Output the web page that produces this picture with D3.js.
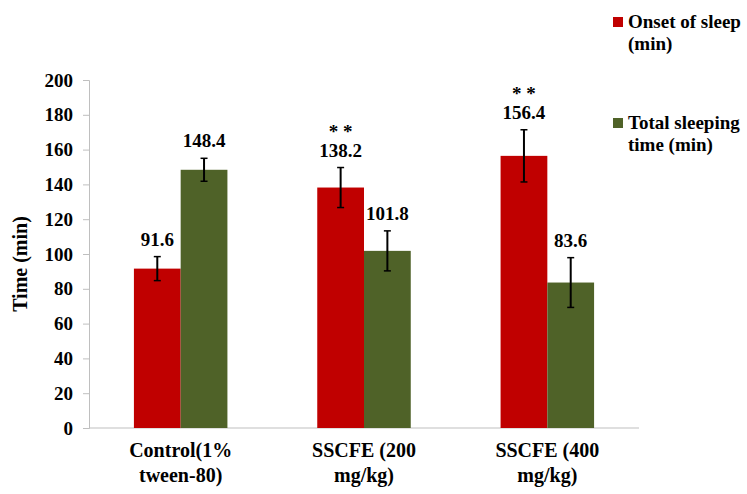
<!DOCTYPE html>
<html lang="en">
<head>
  <meta charset="UTF-8">
  <title>Onset of sleep and total sleeping time</title>
  <script src="https://cdnjs.cloudflare.com/ajax/libs/d3/7.8.5/d3.min.js"></script>
  <style>
    * { margin: 0; padding: 0; box-sizing: border-box; }
    body { background: #fff; width: 747px; height: 494px; overflow: hidden; }
  </style>
</head>
<body>
<div id="chart"></div>
<script>
  // Data
  const groups = [["Control(1%", "tween-80)"], ["SSCFE (200", "mg/kg)"], ["SSCFE (400", "mg/kg)"]];
  const seriesNames = [["Onset of sleep", "(min)"], ["Total sleeping", "time (min)"]];
  const onset = [91.6, 138.2, 156.4];
  const onsetErr = [6.9, 11.5, 15];
  const total = [148.4, 101.8, 83.6];
  const totalErr = [6.6, 11.5, 14.3];
  const stars = ["", "* *", "* *"];
  const yTicks = [0, 20, 40, 60, 80, 100, 120, 140, 160, 180, 200];
  const colors = ["#c00000", "#4f6228"];

  const width = 747, height = 494;
  const plot = {left: 89, right: 639, top: 80, bottom: 428};
  const font = "'Liberation Serif', 'Times New Roman', serif";
  const fs = "19px";

  const svg = d3.select("#chart").append("svg")
    .attr("width", width)
    .attr("height", height)
    .style("font-family", font)
    .style("font-weight", "bold");

  const x0 = d3.scaleBand()
    .domain(d3.range(groups.length))
    .range([plot.left, plot.right])
    .paddingInner(0.49)
    .paddingOuter(0.245);

  const x1 = d3.scaleBand()
    .domain([0, 1])
    .range([0, x0.bandwidth()]);

  const y = d3.scaleLinear()
    .domain([0, 200])
    .range([plot.bottom, plot.top]);

  // y axis
  const yAxis = svg.append("g")
    .attr("transform", `translate(${plot.left},0)`)
    .call(d3.axisLeft(y).tickValues(yTicks).tickSize(6).tickPadding(10));
  yAxis.attr("font-family", null).attr("font-size", null);
  yAxis.select(".domain").attr("stroke", "#bfbfbf");
  yAxis.selectAll(".tick line").attr("stroke", "#bfbfbf");
  yAxis.selectAll(".tick text")
    .style("font-size", fs)
    .attr("fill", "#000");

  // x axis line
  svg.append("line")
    .attr("x1", plot.left).attr("x2", plot.right)
    .attr("y1", y(0)).attr("y2", y(0))
    .attr("stroke", "#bfbfbf");

  // y label
  svg.append("text")
    .attr("transform", `translate(27,${(plot.top + plot.bottom) / 2 + 10}) rotate(-90)`)
    .attr("text-anchor", "middle")
    .style("font-size", "20px")
    .text("Time (min)");

  const rows = groups.map((g, i) => ({
    i,
    vals: [
      {s: 0, v: onset[i], e: onsetErr[i]},
      {s: 1, v: total[i], e: totalErr[i]}
    ]
  }));

  const gGroup = svg.selectAll(".grp").data(rows).join("g")
    .attr("class", "grp")
    .attr("transform", d => `translate(${x0(d.i)},0)`);

  const bar = gGroup.selectAll(".b").data(d => d.vals).join("g").attr("class", "b");

  bar.append("rect")
    .attr("x", d => x1(d.s))
    .attr("width", x1.bandwidth())
    .attr("y", d => y(d.v))
    .attr("height", d => y(0) - y(d.v))
    .attr("fill", d => colors[d.s]);

  const cx = d => x1(d.s) + x1.bandwidth() / 2;
  bar.append("line")
    .attr("x1", cx).attr("x2", cx)
    .attr("y1", d => y(d.v + d.e)).attr("y2", d => y(d.v - d.e))
    .attr("stroke", "#000").attr("stroke-width", 2);
  [1, -1].forEach(k => {
    bar.append("line")
      .attr("x1", d => cx(d) - 3.5).attr("x2", d => cx(d) + 3.5)
      .attr("y1", d => y(d.v + k * d.e)).attr("y2", d => y(d.v + k * d.e))
      .attr("stroke", "#000").attr("stroke-width", 1.5);
  });

  bar.append("text")
    .attr("x", cx)
    .attr("y", d => y(d.v + d.e) - 11)
    .attr("text-anchor", "middle")
    .style("font-size", fs)
    .text(d => d.v.toFixed(1));

  // significance stars over onset bars
  gGroup.append("text")
    .attr("x", x1(0) + x1.bandwidth() / 2)
    .attr("y", d => y(onset[d.i] + onsetErr[d.i]) - 30)
    .attr("text-anchor", "middle")
    .style("font-size", fs)
    .text(d => stars[d.i]);

  // x labels
  const xl = svg.selectAll(".xl").data(groups).join("text")
    .attr("class", "xl")
    .attr("text-anchor", "middle")
    .style("font-size", "20px")
    .attr("x", (d, i) => x0(i) + x0.bandwidth() / 2)
    .attr("y", 457);
  xl.selectAll("tspan").data(d => d).join("tspan")
    .attr("x", function () { return d3.select(this.parentNode).attr("x"); })
    .attr("dy", (d, i) => i === 0 ? 0 : 25)
    .text(d => d);

  // legend
  const leg = svg.selectAll(".leg").data(seriesNames).join("g")
    .attr("class", "leg")
    .attr("transform", (d, i) => `translate(613,${17 + i * 101})`);
  leg.append("rect")
    .attr("width", 10).attr("height", 10)
    .attr("fill", (d, i) => colors[i]);
  leg.append("text")
    .style("font-size", fs)
    .selectAll("tspan").data(d => d).join("tspan")
    .attr("x", 15)
    .attr("y", (d, i) => 11 + i * 22)
    .text(d => d);

  svg.selectAll("text").style("font-family", font).style("font-weight", "bold");
</script>
</body>
</html>
